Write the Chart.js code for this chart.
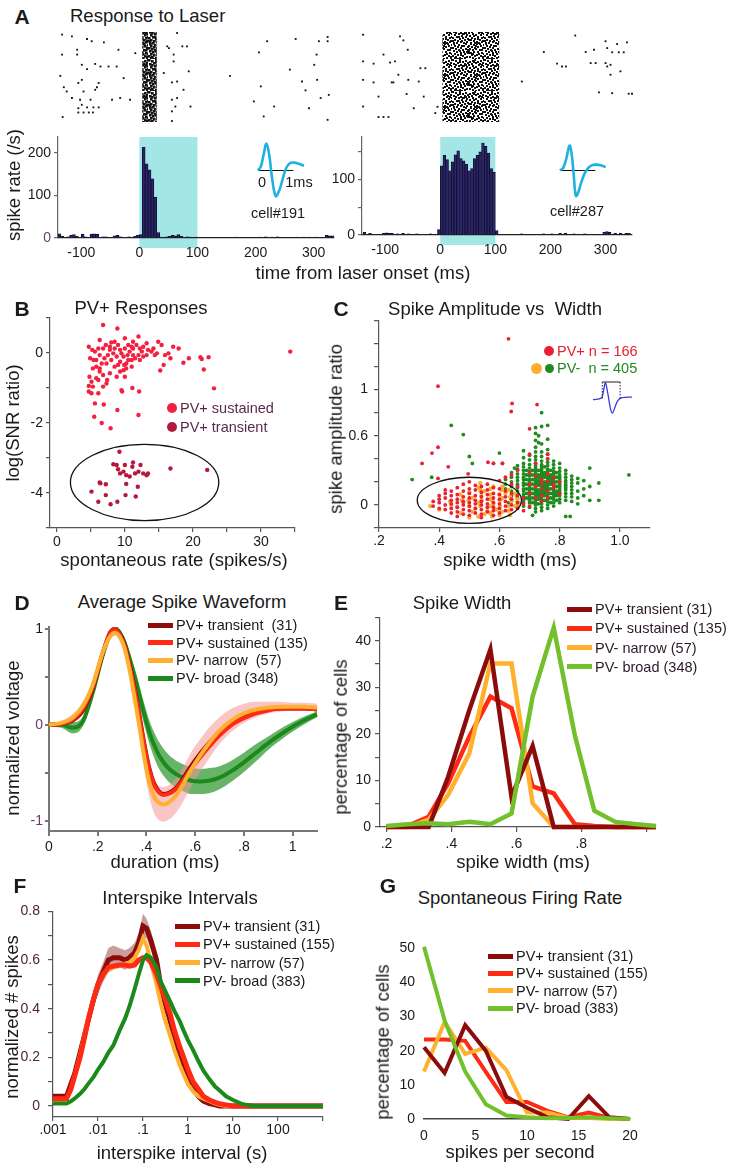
<!DOCTYPE html>
<html>
<head>
<meta charset="utf-8">
<script src="https://cdn.jsdelivr.net/npm/chart.js@4.4.0/dist/chart.umd.min.js"></script>
<style>
  body { margin: 0; background: #fff; }
  #fig { position: relative; width: 730px; height: 1165px; overflow: hidden;
         font-family: "Liberation Sans", Arial, sans-serif; color: #1a1a1a; }
  #fig canvas { position: absolute; }
  .t { position: absolute; white-space: pre; line-height: 1; }
  .sw { position: absolute; width: 25px; height: 5px; }
  .dot { position: absolute; border-radius: 50%; }
</style>
</head>
<body>
<div id="fig"></div>
<script>
// ---------- A: rasters (time ms, trial) and PSTHs ----------
const rasterLeft = [[-133,0.6],[-116,1.2],[-90,2.1],[-82,2.9],[-61,3.3],[-107,5.9],[-133,7.6],[-107,7.6],[-36,5.9],[-7,7.1],
  [-99,11.2],[-76,10.9],[-67,11.8],[-53,11.8],[-90,12.7],[-39,11.8],[-136,15.1],[-27,15.9],[-99,16.5],[-70,17.6],
  [-73,19.1],[-105,17.6],[-130,19.1],[-76,20],[-125,20.6],[-96,20.6],[-116,22.9],[-102,23.5],[-84,23.5],[-47,23.5],
  [-33,22.9],[-16,23.5],[-99,25.3],[-105,26.5],[-90,26.2],[-79,26.2],[-70,26.2],[-105,28],[-96,28],[-87,28],[-80,28],[-132,29.6],
  [65,0],[48,4.7],[51,5.3],[74,4.7],[82,4.7],[59,7.6],[59,10],[42,14.1],[85,13.5],[65,17.1],[56,17.4],[76,20],[65,22.9],
  [56,23.5],[62,25.9],[88,25.9],[56,27.6],[56,31],
  [156,15.1],[220,2.9],[206,6.8],[269,2.1],[309,2.9],[324,1.4],[324,2.9],[305,7.6],[259,12.9],[301,11.2],[209,18.8],
  [280,17.1],[306,16.5],[286,20.2],[312,22.9],[326,21.8],[197,24.1],[232,25.9],[292,26.5],[214,29.4],[324,30.6]];
const rasterRight = [[-73,1.2],[-67,2.6],[-59,5.9],[-103,7.6],[-91,10.4],[-82,10],[-121,10.8],[-36,12.4],[-27,12.4],
  [-76,14.7],[-88,17.4],[-85,17.4],[-58,16.5],[-39,17.1],[-121,17.4],[-112,22.4],[-61,21.5],[-30,22.4],[-48,26.5],
  [-9,28.2],[-112,29.6],[-103,29.6],[-94,29.6],[-140,0.6],[-140,10],[-140,16.5],[-140,25.9],[-5,26],
  [245,0.9],[188,6.7],[148,17.1],[212,10.8],[221,11.8],[228,11.8],[264,6.7],[279,5.9],[300,2.9],[321,3.9],[339,3.3],
  [303,5.3],[312,6.8],[324,6.8],[333,6.8],[300,10.6],[309,11.2],[303,11.8],[327,13.5],[309,14.7],[273,10.6],[282,10.6],
  [288,20.9],[312,21.2],[342,21.4],[348,21.4]];
const denseLeft = [5, 30, 0, 31];     // first ms, last ms, first trial, last trial
const denseRight = [4, 107, 0, 31];
const laserOn = [0, 100];

const psthLeftBins = [-140,-135,-125,-120,-115,-110,-100,-95,-85,-80,-75,-65,-60,-45,-40,-35,-20,-10,-5,0,
  5,10,15,20,25,30,35,45,50,55,60,65,70,80,85,95,165,205,215,225,235,270,280,290,300,320,325,330];
const psthLeftRate = [10,4,3,6,8,4,9,3,9,10,9,3,3,5,6,3,3,4,7,8,
  213,174,160,139,96,13,2,3,4,6,5,8,4,3,2,2,2,2,3,2,3,2,2,2,2,6,5,5];
const psthRightBins = [-140,-130,-105,-100,-95,-90,-80,-70,-60,-45,-20,-5,0,5,10,15,20,25,30,35,40,45,50,55,60,
  65,70,75,80,85,90,95,100,145,185,200,215,225,240,260,295,300,305,315,325,335,340];
const psthRightRate = [5,3,3,4,3,3,2,3,2,2,2,10,125,144,136,116,132,145,152,138,134,128,116,120,138,
  144,150,166,160,148,120,113,8,2,2,2,3,3,2,2,5,6,5,3,3,3,3];

const waveLeftT = [0,0.08,0.16,0.24,0.32,0.4,0.5,0.6,0.7,0.8,0.9,1.0,1.15,1.3];
const waveLeftV = [0,0.15,0.6,1.0,0.55,-0.3,-0.95,-0.75,-0.3,0.1,0.27,0.3,0.25,0.18];
const waveRightT = [0,0.09,0.18,0.27,0.33,0.39,0.45,0.52,0.6,0.7,0.8,0.9,1.0,1.15,1.29];
const waveRightV = [0,0.1,0.45,0.93,0.6,-0.2,-0.95,-0.8,-0.45,-0.1,0.1,0.19,0.22,0.2,0.12];

// ---------- B: spontaneous rate vs log(SNR) ----------
const bSustained = [[6.8,0.80],[8.9,0.70],[4.7,0.18],[6.3,0.37],[7.2,0.23],[7.8,0.18],[8.5,0.13],[9.3,0.09],[10.0,0.42],
  [10.5,0.23],[11.0,0.18],[11.7,0.23],[12.0,0.47],[12.5,0.04],[13.2,0.28],[13.9,0.04],[14.4,-0.06],[14.9,0.32],[15.4,0.23],
  [15.9,-0.06],[16.4,-0.01],[17.1,0.18],[17.9,0.13],[18.6,-0.28],[19.4,-0.15],[21.1,-0.12],[21.3,-0.17],[22.3,-0.12],
  [21.6,-0.47],[23.1,-1.01],[15.2,-0.50],[15.7,-0.34],[16.7,-0.15],[34.3,0.04],[4.9,-0.15],[5.4,-0.2],[5.8,-0.39],
  [6.3,-0.53],[6.8,-0.63],[7.4,-0.77],[4.8,-0.68],[5.1,-0.82],[5.3,-0.96],[4.7,-1.1],[5.1,-1.15],[6.1,-1.15],[6.8,-0.96],
  [7.3,-0.87],[7.8,-0.58],[8.5,-0.39],[9.3,-0.25],[9.8,-0.49],[10.2,-0.3],[11.0,-0.39],[11.5,-0.15],[12.2,-0.2],[9.8,-0.1],
  [8.8,-0.1],[8.3,-0.01],[7.5,-0.06],[6.3,-0.06],[5.6,0.04],[5.8,-0.72],[6.6,-0.3],[8.0,-0.2],[9.3,-0.53],[10.0,-0.68],
  [10.2,-0.44],[11.2,-0.06],[12.7,-0.1],[13.4,0.09],[14.2,0.13],[14.7,-0.01],[11.0,-0.2],[12.0,-0.06],[10.4,-0.06],
  [9.0,0.23],[8.0,0.3],[6.8,0.13],[6.1,0.13],[5.2,0.09],[5.6,-1.44],[6.9,-1.47],[5.5,-1.82],[6.6,-2.0],[7.9,-2.15],
  [8.9,-1.63],[12.0,-1.77],[12.1,-1.1],[9.5,-1.06],[9.6,-1.1],[11.1,-1.0],[4.7,-0.94],[6.1,-0.77],[8.8,-0.68],[9.9,-0.34],
  [10.7,0.04],[9.5,-0.01],[7.3,-0.3],[6.3,-0.44],[5.3,-0.44],[8.5,0.32],[11.2,0.13],[12.2,0.13],[9.0,-0.34],[10.5,-0.2],
  [12.7,0.18],[7.0,-0.15],[5.8,-0.2],[7.8,0.09],[11.2,0.32],[13.2,-0.06],[10.0,0.13]];
const bTransient = [[9.2,-2.82],[8.3,-3.18],[8.8,-3.2],[10.0,-3.2],[9.0,-3.32],[9.8,-3.39],[11.2,-3.13],[11.1,-3.25],
  [12.3,-3.2],[12.0,-3.39],[12.7,-3.44],[13.2,-3.49],[13.4,-3.44],[10.2,-3.49],[10.7,-3.53],[11.5,-3.44],[9.3,-3.44],
  [6.3,-3.7],[6.4,-3.72],[7.2,-3.75],[5.1,-3.96],[7.2,-4.06],[6.1,-4.25],[7.9,-4.32],[10.2,-3.74],[10.1,-4.06],
  [11.9,-3.82],[11.6,-4.1],[8.9,-4.25],[16.7,-3.3],[22.1,-3.34]];
const bEllipse = [12.9, -3.7, 10.9, 1.09];   // centre x, centre y, radius x, radius y

// ---------- C: spike amplitude ratio vs width ----------
const cGreenCols = [[0.62,[0.22,0.18,0.14]],[0.64,[0.28,0.24,0.20,0.16,0.12,0.08,0.05]],
  [0.66,[0.34,0.31,0.27,0.24,0.21,0.18,0.15,0.12,0.09,0.06,0.03,0.00]],
  [0.68,[0.47,0.41,0.36,0.33,0.30,0.27,0.24,0.22,0.19,0.17,0.14,0.12,0.09,0.07,0.04,0.02,-0.01]],
  [0.69,[0.30,0.26,0.22,0.18,0.14,0.10,0.06]],
  [0.70,[0.43,0.39,0.35,0.32,0.29,0.27,0.25,0.22,0.20,0.18,0.16,0.14,0.12,0.10,0.08,0.06,0.04,0.02,-0.02]],
  [0.71,[0.30,0.26,0.22,0.18,0.14,0.10,0.06,0.02]],
  [0.72,[0.62,0.56,0.50,0.46,0.42,0.39,0.36,0.34,0.32,0.30,0.28,0.26,0.24,0.22,0.20,0.18,0.16,0.14,0.12,0.10,0.08,0.06,0.04,0.02,0.00,-0.03,-0.06]],
  [0.73,[0.30,0.26,0.21,0.17,0.13,0.09,0.05,0.01,0.24,0.19,0.11,0.07]],
  [0.74,[0.80,0.68,0.53,0.46,0.42,0.38,0.35,0.33,0.31,0.29,0.27,0.25,0.23,0.21,0.19,0.17,0.15,0.13,0.11,0.09,0.07,0.05,0.03,0.01,-0.02,-0.05]],
  [0.75,[0.33,0.28,0.24,0.20,0.16,0.12,0.08,0.04,0.26,0.18,0.10,0.14]],
  [0.76,[0.69,0.48,0.44,0.40,0.37,0.34,0.31,0.29,0.27,0.25,0.23,0.21,0.19,0.17,0.15,0.13,0.11,0.09,0.07,0.05,0.03,0.00,-0.03]],
  [0.77,[0.30,0.26,0.22,0.18,0.14,0.10,0.06,0.02,0.24,0.20]],
  [0.78,[0.38,0.35,0.32,0.29,0.27,0.25,0.23,0.21,0.19,0.17,0.15,0.13,0.11,0.09,0.07,0.05,0.02,-0.01]],
  [0.79,[0.28,0.24,0.20,0.16,0.12,0.08,0.04,0.10]],
  [0.80,[0.36,0.32,0.29,0.26,0.24,0.22,0.20,0.18,0.16,0.14,0.12,0.10,0.08,0.05,0.02]],
  [0.82,[0.30,0.27,0.24,0.21,0.19,0.17,0.15,0.13,0.10,0.07,0.04,-0.10]],
  [0.84,[0.25,0.22,0.19,0.16,0.13,0.10,0.07,0.03]],[0.86,[0.23,0.19,0.12,0.06,0.01]],
  [0.88,[0.21,0.14,0.08]],[0.90,[0.32,0.16,0.04]],[0.93,[0.19,0.04]]];
const cGreenOut = [[0.31,0.22],[0.44,0.69],[0.48,0.61],[0.50,0.42],[0.51,0.36],[0.375,0.24],[0.58,0.36],[0.60,0.45],
  [0.61,0.36],[0.71,-0.09],[0.835,-0.10],[1.03,0.26],[0.72,0.67],[0.73,0.60],[0.73,0.54],[0.76,0.57],[0.65,0.32],[0.63,0.02]];
const cRedCols = [[0.38,[0.03,-0.01]],[0.40,[0.08,0.05,0.02,-0.03]],[0.42,[0.13,0.10,0.06,0.00,-0.04]],
  [0.44,[0.12,0.08,0.04,0.01,-0.03,-0.07]],[0.46,[0.15,0.09,0.05,0.02,-0.02,-0.06,-0.10]],
  [0.48,[0.18,0.12,0.07,0.03,0.00,-0.04,-0.08]],[0.50,[0.20,0.14,0.10,0.06,0.02,-0.01,-0.05,-0.09]],
  [0.52,[0.17,0.13,0.08,0.04,0.01,-0.03,-0.07]],[0.54,[0.16,0.11,0.07,0.03,0.00,-0.04,-0.08,-0.11]],
  [0.56,[0.18,0.13,0.09,0.05,0.01,-0.02,-0.06]],[0.58,[0.15,0.10,0.06,0.02,-0.02,-0.05,-0.09]],
  [0.60,[0.21,0.14,0.09,0.05,0.01,-0.03,-0.07]],[0.62,[0.24,0.12,0.07,0.03,-0.01,-0.05]],
  [0.64,[0.26,0.18,0.10,0.05,0.00,-0.04]],[0.66,[0.16,0.08,0.02,-0.03]],[0.68,[0.06,0.01,-0.05]],
  [0.70,[0.44,0.28,0.18,0.10,-0.01]],[0.72,[0.36,0.25,0.16,0.06]],[0.74,[0.22,0.19,0.14,0.08,0.03]],
  [0.76,[0.44,0.40,0.27,0.20,0.12,0.06]],[0.78,[0.24,0.18,0.15]],[0.80,[0.20,0.10]]];
const cRedOut = [[0.63,1.44],[0.396,1.03],[0.642,0.88],[0.639,0.81],[0.725,0.87],[0.70,0.66],[0.396,0.50],[0.376,0.45],
  [0.343,0.36],[0.396,0.23],[0.43,0.33],[0.496,0.27],[0.562,0.37],[0.58,0.36],[0.61,0.36],[0.66,0.30]];
const cNarrow = [[0.37,-0.01],[0.40,-0.04],[0.44,0.0],[0.47,0.09],[0.475,0.04],[0.497,0.04],[0.50,-0.01],[0.51,-0.06],
  [0.536,0.19],[0.536,0.13],[0.541,0.04],[0.536,-0.01],[0.53,-0.10],[0.57,0.14],[0.57,0.09],[0.575,0.04],[0.57,-0.01],
  [0.575,-0.10],[0.608,0.13],[0.602,0.04],[0.602,-0.01],[0.608,-0.06],[0.63,0.13],[0.635,0.07],[0.63,-0.01],[0.635,-0.09],
  [0.657,0.07],[0.652,-0.01],[0.663,0.01],[0.50,-0.11],[0.47,-0.07],[0.436,0.03],[0.54,0.08],[0.57,0.05],[0.60,0.09],
  [0.53,0.15],[0.50,0.11],[0.56,-0.05],[0.61,0.06],[0.64,0.03],[0.58,0.16],[0.52,-0.03],[0.55,-0.08],[0.59,-0.04],
  [0.62,0.10],[0.48,0.02],[0.46,-0.02],[0.66,0.05],[0.60,-0.09],[0.53,0.02],[0.57,-0.07],[0.63,-0.05],[0.51,0.06],
  [0.55,0.12],[0.65,0.10],[0.58,0.01],[0.61,0.16]];
const cEllipse = [0.5, 0.04, 0.173, 0.2];
const cWaveT = [0,0.29,0.36,0.43,0.52,0.6,0.67,0.76,0.86,1.0,1.35];
const cWaveV = [0,0.1,0.5,1.0,0.3,-0.5,-0.8,-0.45,-0.05,0.12,0.15];
const cWaveBox = [0.32, 0.94];

// ---------- D: average waveforms ----------
const dX = [0,0.05,0.1,0.14,0.18,0.22,0.25,0.27,0.29,0.31,0.33,0.35,0.37,0.39,0.41,0.43,0.45,0.47,0.49,0.52,0.55,0.58,0.62,0.66,0.70,0.75,0.80,0.85,0.90,0.95,1.0,1.05,1.1];
const dTransient = [0,0.01,0.05,0.15,0.38,0.74,0.96,1.0,0.95,0.84,0.64,0.40,0.12,-0.18,-0.43,-0.60,-0.69,-0.72,-0.71,-0.66,-0.56,-0.44,-0.30,-0.18,-0.07,0.03,0.10,0.14,0.16,0.17,0.17,0.17,0.16];
const dSustained = [0,0.01,0.06,0.17,0.40,0.75,0.95,1.0,0.94,0.82,0.62,0.38,0.10,-0.20,-0.45,-0.62,-0.70,-0.73,-0.72,-0.67,-0.58,-0.47,-0.34,-0.22,-0.11,0.00,0.07,0.12,0.15,0.17,0.17,0.17,0.16];
const dNarrow = [0,0.02,0.08,0.20,0.42,0.75,0.92,0.96,0.92,0.80,0.58,0.30,0.00,-0.32,-0.58,-0.74,-0.81,-0.83,-0.81,-0.74,-0.62,-0.48,-0.32,-0.18,-0.06,0.05,0.12,0.16,0.18,0.19,0.19,0.19,0.18];
const dBroad = [0,0.0,-0.03,0.04,0.34,0.72,0.94,1.0,0.96,0.86,0.70,0.52,0.32,0.12,-0.06,-0.20,-0.31,-0.39,-0.45,-0.51,-0.55,-0.58,-0.59,-0.58,-0.55,-0.48,-0.39,-0.29,-0.19,-0.10,-0.02,0.05,0.11];
const dBroadSpread = [0.02,0.03,0.06,0.05,0.04,0.03,0.03,0.03,0.04,0.05,0.06,0.08,0.10,0.11,0.12,0.13,0.14,0.14,0.14,0.14,0.14,0.14,0.13,0.13,0.12,0.11,0.10,0.09,0.07,0.06,0.05,0.04,0.03];
const dNarrowSpread = [0.02,0.02,0.04,0.05,0.05,0.04,0.04,0.03,0.04,0.05,0.06,0.08,0.10,0.13,0.15,0.17,0.18,0.18,0.18,0.18,0.18,0.18,0.17,0.16,0.14,0.12,0.10,0.08,0.06,0.05,0.04,0.04,0.04];

// ---------- E: spike width histograms (% of cells) ----------
const eX = [0.2,0.265,0.33,0.39,0.455,0.52,0.585,0.65,0.715,0.78,0.84,0.905,0.97,1.03];
const eTransient = [0,0,0,10.8,25.1,38.1,6.5,17.4,0,0,0,0,0,0];
const eSustained = [0,0.2,2.2,9.4,19.4,28,25.5,8.7,7.2,0.6,0.2,0,0,0];
const eNarrow = [0,0,1.6,6.9,15.8,35.1,35.1,5.1,0,0,0,0,0,0];
const eBroad = [0.2,0.6,0.8,0.6,1.1,0.6,2.9,28,42.8,19.7,3.5,1.1,0.6,0.2];

// ---------- F: interspike intervals ----------
const isiX = [0.001,0.0015,0.002,0.0025,0.003,0.004,0.005,0.006,0.008,0.01,0.013,0.017,0.022,0.03,0.04,0.05,0.065,0.08,
  0.1,0.12,0.15,0.2,0.25,0.3,0.4,0.5,0.65,0.8,1,1.3,1.7,2.2,3,4,5,7,10,15,20,30,50,100,1000];
const isiTransient = [0.04,0.04,0.04,0.09,0.13,0.22,0.29,0.35,0.44,0.50,0.55,0.60,0.61,0.61,0.60,0.61,0.63,0.67,0.74,0.73,
  0.68,0.60,0.49,0.43,0.35,0.28,0.21,0.16,0.11,0.07,0.04,0.02,0.01,0.005,0,0,0,0,0,0,0,0,0];
const isiTransientSpread = [0.01,0.01,0.01,0.02,0.02,0.03,0.03,0.03,0.03,0.04,0.04,0.05,0.05,0.04,0.04,0.04,0.04,0.04,0.05,0.04,
  0.04,0.03,0.03,0.03,0.02,0.02,0.02,0.02,0.02,0.01,0.01,0.01,0.01,0,0,0,0,0,0,0,0,0,0];
const isiSustained = [0.03,0.03,0.03,0.07,0.12,0.20,0.28,0.35,0.44,0.50,0.54,0.57,0.575,0.58,0.58,0.575,0.58,0.60,0.61,0.61,
  0.59,0.54,0.49,0.45,0.38,0.31,0.245,0.20,0.15,0.10,0.07,0.04,0.025,0.015,0.01,0.005,0,0,0,0,0,0,0];
const isiNarrow = [0.01,0.02,0.03,0.07,0.12,0.21,0.29,0.36,0.44,0.50,0.54,0.56,0.57,0.575,0.585,0.59,0.61,0.64,0.69,0.66,
  0.59,0.50,0.42,0.36,0.29,0.23,0.17,0.13,0.09,0.06,0.04,0.03,0.02,0.01,0.005,0,0,0,0,0,0,0,0];
const isiBroad = [0.01,0.01,0.01,0.02,0.03,0.05,0.07,0.09,0.12,0.15,0.18,0.22,0.25,0.31,0.36,0.41,0.48,0.54,0.60,0.62,
  0.61,0.57,0.51,0.48,0.43,0.39,0.35,0.31,0.27,0.23,0.185,0.145,0.11,0.08,0.065,0.04,0.025,0.01,0.005,0,0,0,0];

// ---------- G: spontaneous firing rate (% of cells) ----------
const gX = [0,2,4,6,8,10,12,14,16,18,20];
const gTransient = [21,13.5,27.5,20,6.5,3.3,0.5,0,6.7,0.5,0];
const gSustained = [23.3,23.3,22.9,13.8,5,5,2.4,0.5,1.9,0.3,0];
const gNarrow = [13.9,28.4,19.1,20.9,14.3,1.9,1.9,0.3,0.3,0,0];
const gBroad = [50.5,28.9,13.9,4.3,1,0.5,0.2,0.3,0.5,0.2,0];

const COL = { transient: '#8c0c0c', sustained: '#ff2a14', narrow: '#ffb02e', broadDark: '#1b8a1b', broadLight: '#72c02c' };

// ---------- helpers ----------
const fig = document.getElementById('fig');
Chart.defaults.font.family = '"Liberation Sans", Arial, sans-serif';
Chart.defaults.font.size = 14;
Chart.defaults.color = '#1a1a1a';
Chart.defaults.animation = false;
Chart.defaults.events = [];
Chart.defaults.plugins.legend.display = false;
Chart.defaults.plugins.tooltip.enabled = false;

const ML = 44, MR = 22, MT = 12, MB = 26;

// rect = plot area [left, top, right, bottom] in page pixels
function panel(rect, config, axes) {
  const [L, T, R, B] = rect;
  const ml = axes ? ML : 6, mr = axes ? MR : 6, mt = axes ? MT : 6, mb = axes ? MB : 6;
  const cv = document.createElement('canvas');
  const w = Math.round(R - L + ml + mr), h = Math.round(B - T + mt + mb);
  cv.width = w; cv.height = h;
  cv.style.width = w + 'px'; cv.style.height = h + 'px';
  cv.style.left = Math.round(L - ml) + 'px'; cv.style.top = Math.round(T - mt) + 'px';
  fig.appendChild(cv);
  const o = config.options;
  o.responsive = false;
  o.maintainAspectRatio = false;
  o.layout = { padding: axes ? { left: 0, top: mt, right: mr, bottom: 0 } : { left: ml, top: mt, right: mr, bottom: mb } };
  if (axes) {
    o.scales.x.afterFit = s => { s.height = mb; };
    o.scales.y.afterFit = s => { s.width = ml; };
  }
  return new Chart(cv, config);
}

function axis(o) {
  const lc = o.lineColor || '#555';
  return {
    type: o.type || 'linear', min: o.min, max: o.max, offset: false,
    border: { display: o.border !== false, color: lc, width: o.lineWidth || 1.2 },
    grid: { display: !!o.tick, drawOnChartArea: false, drawTicks: true, tickLength: o.tick || 0,
            color: lc, lineWidth: o.lineWidth || 1.2, offset: false },
    afterBuildTicks: s => { s.ticks = o.ticks.map(v => ({ value: v })); },
    ticks: { autoSkip: false, maxRotation: 0, minRotation: 0, padding: o.pad || 0,
             font: { size: o.size || 14 }, color: o.color || '#1a1a1a',
             callback: (v, i) => o.labels[i] }
  };
}
const hidden = (min, max, reverse) => ({ type: 'linear', display: false, min, max, reverse: !!reverse });
const xy = pairs => pairs.map(p => ({ x: p[0], y: p[1] }));
const zip = (xs, ys) => xs.map((x, i) => ({ x, y: ys[i] }));
const cols = c => c.flatMap(([x, ys]) => ys.map(y => ({ x, y })));

// speckle texture for the dense raster blocks (style only)
const speckle = [[0,0],[3,1],[7,0],[10,2],[13,1],[1,4],[5,3],[8,5],[12,4],[15,3],[2,7],[6,6],[9,8],[11,6],[14,7],[0,10],
  [4,9],[7,11],[10,10],[13,9],[2,12],[5,13],[8,14],[12,12],[15,11],[1,15],[4,15],[9,13],[11,15],[14,14],[6,9],[3,5],
  [13,5],[7,2],[0,13],[10,6]];
function tile(size) {
  const c = document.createElement('canvas'); c.width = 32; c.height = 32;
  const g = c.getContext('2d'); g.fillStyle = '#111';
  speckle.forEach(([x, y]) => {
    g.fillRect(x, y, size, size);
    g.fillRect(16 + y, (x + 5) % 16, size, size);
    g.fillRect(15 - x, 16 + ((y + 9) % 16), size, size);
    g.fillRect(16 + ((x + 7) % 16), 31 - y, size, size);
  });
  return c;
}
function densePlugin(block, size) {
  return { id: 'dense', afterDatasetsDraw(chart) {
    const { ctx, scales: { x, y } } = chart;
    const x0 = x.getPixelForValue(block[0]), x1 = x.getPixelForValue(block[1]);
    const y0 = y.getPixelForValue(block[2]), y1 = y.getPixelForValue(block[3]);
    ctx.save();
    ctx.fillStyle = ctx.createPattern(tile(size), 'repeat');
    ctx.fillRect(x0, Math.min(y0, y1) - 1, x1 - x0, Math.abs(y1 - y0) + 2);
    ctx.restore();
  } };
}
function shadePlugin(range, color, below) {
  return { id: 'shade', beforeDraw(chart) {
    const { ctx, chartArea: a, scales: { x } } = chart;
    const x0 = x.getPixelForValue(range[0]), x1 = x.getPixelForValue(range[1]);
    ctx.save(); ctx.fillStyle = color;
    ctx.fillRect(x0, a.top, x1 - x0, a.bottom - a.top + below);
    ctx.restore();
  } };
}
function ellipsePlugin(e) {
  return { id: 'ellipse', afterDatasetsDraw(chart) {
    const { ctx, scales: { x, y } } = chart;
    const cx = x.getPixelForValue(e[0]), cy = y.getPixelForValue(e[1]);
    const rx = Math.abs(x.getPixelForValue(e[0] + e[2]) - cx), ry = Math.abs(y.getPixelForValue(e[1] + e[3]) - cy);
    ctx.save(); ctx.beginPath(); ctx.ellipse(cx, cy, rx, ry, 0, 0, Math.PI * 2);
    ctx.strokeStyle = '#111'; ctx.lineWidth = 1.3; ctx.stroke(); ctx.restore();
  } };
}

function text(str, x, y, o = {}) {
  const d = document.createElement('div');
  d.className = 't';
  d.textContent = str;
  d.style.left = x + 'px'; d.style.top = y + 'px';
  d.style.fontSize = (o.size || 18.5) + 'px';
  if (o.bold) d.style.fontWeight = 'bold';
  if (o.color) d.style.color = o.color;
  const tx = o.align === 'left' ? '0' : '-50%';
  d.style.transform = `translate(${tx},-50%)` + (o.rot ? ' rotate(-90deg)' : '');
  fig.appendChild(d);
}
function dot(x, y, d, color) {
  const e = document.createElement('div');
  e.className = 'dot';
  Object.assign(e.style, { left: (x - d / 2) + 'px', top: (y - d / 2) + 'px', width: d + 'px', height: d + 'px', background: color });
  fig.appendChild(e);
}
function legend(x, y0, dy, rows, color) {
  rows.forEach(([label, c], i) => {
    const y = y0 + i * dy;
    const s = document.createElement('div');
    s.className = 'sw';
    Object.assign(s.style, { left: x + 'px', top: (y - 2.5) + 'px', background: c });
    fig.appendChild(s);
    text(label, x + 28, y, { size: 14.5, align: 'left', color: color || '#1a1a1a' });
  });
}

const PURPLE = '#6b3c6e';

// ---------- A ----------
function raster(rect, pts, block, size, xr) {
  panel(rect, {
    type: 'scatter',
    data: { datasets: [{ data: xy(pts), pointStyle: 'rect', pointRadius: 1.3, pointBackgroundColor: '#111',
                         pointBorderWidth: 0, clip: false }] },
    options: { scales: { x: hidden(xr[0], xr[1]), y: hidden(0, 31, true) } },
    plugins: [densePlugin(block, size)]
  }, false);
}
raster([57.7, 33, 333.6, 121], rasterLeft, denseLeft, 2.6, [-140, 335]);
raster([361.9, 33, 631.4, 121], rasterRight, denseRight, 2, [-142, 348]);

function psth(rect, bins, rate, xr, yMax, yTicks, yLabels) {
  panel(rect, {
    type: 'bar',
    data: { datasets: [{ data: bins.map((b, i) => ({ x: b + 2.5, y: rate[i] })),
      backgroundColor: '#2c2668', borderColor: '#0e0b2a', borderWidth: 0.8,
      barPercentage: 1, categoryPercentage: 1, grouped: false }] },
    options: { scales: {
      x: axis({ min: xr[0], max: xr[1], ticks: [-100, 0, 100, 200, 300], labels: ['-100', '0', '100', '200', '300'],
                lineColor: '#222', lineWidth: 1.3, pad: 7 }),
      y: axis({ min: 0, max: yMax, ticks: yTicks, labels: yLabels, tick: 4, pad: 3, lineColor: '#666',
                color: c => (c.tick && c.tick.value === 0 && yMax > 200) ? PURPLE : '#1a1a1a' })
    } },
    plugins: [shadePlugin(laserOn, '#a2e6e6', 10)]
  }, true);
}
psth([57.7, 137, 333.6, 238], psthLeftBins, psthLeftRate, [-140, 335], 237, [0, 100, 200], ['0', '100', '200']);
psth([361.9, 137, 631.4, 235], psthRightBins, psthRightRate, [-142, 348], 177, [0, 50, 100, 150], ['0', '', '100', '']);

function inset(rect, t, v) {
  panel(rect, {
    type: 'line',
    data: { datasets: [
      { data: zip(t, v), borderColor: '#1eb2de', borderWidth: 2.6, pointRadius: 0, tension: 0.4, clip: false },
      { data: [{ x: 0, y: 0 }, { x: 1, y: 0 }], borderColor: '#111', borderWidth: 1.2, pointRadius: 0, clip: false }
    ] },
    options: { scales: { x: hidden(0, 1.3), y: hidden(-1.1, 1.1) } }
  }, false);
}
inset([258, 141.3, 303.5, 200.7], waveLeftT, waveLeftV);
inset([560, 141.3, 605.5, 200.7], waveRightT, waveRightV);

// ---------- B ----------
panel([50.2, 318, 295, 528], {
  type: 'scatter',
  data: { datasets: [
    { data: xy(bTransient), pointRadius: 2.2, pointBackgroundColor: '#b3193d', pointBorderWidth: 0, clip: false },
    { data: xy(bSustained), pointRadius: 2.2, pointBackgroundColor: '#f2213f', pointBorderWidth: 0, clip: false }
  ] },
  options: { scales: {
    x: axis({ min: -1, max: 35, ticks: [0, 5, 10, 15, 20, 25, 30, 35], labels: ['0', '', '10', '', '20', '', '30', ''], tick: 4, pad: 2 }),
    y: axis({ min: -5, max: 1, ticks: [-5, -4, -3, -2, -1, 0, 1], labels: ['', '-4', '', '-2', '', '0', ''], tick: 4, pad: 3 })
  } },
  plugins: [ellipsePlugin(bEllipse)]
}, true);

// ---------- C ----------
panel([379, 318, 650, 528.4], {
  type: 'scatter',
  data: { datasets: [
    { data: xy(cRedOut).concat(cols(cRedCols)), pointRadius: 1.9, pointBackgroundColor: '#ec2035', pointBorderWidth: 0, clip: false },
    { data: xy(cNarrow), pointRadius: 2.2, pointBackgroundColor: '#fbb034', pointBorderWidth: 0, clip: false },
    { data: cols(cGreenCols).concat(xy(cGreenOut)), pointRadius: 1.9, pointBackgroundColor: '#1e8c1e', pointBorderWidth: 0, clip: false }
  ] },
  options: { scales: {
    x: axis({ min: 0.2, max: 1.1, ticks: [0.2, 0.4, 0.6, 0.8, 1.0], labels: ['.2', '.4', '.6', '.8', '1.0'], tick: 4, pad: 1 }),
    y: axis({ min: -0.2, max: 1.6, ticks: [-0.2, 0, 0.2, 0.4, 0.6, 0.8, 1, 1.2, 1.4, 1.6],
              labels: ['', '0', '', '', '0.6', '', '1', '', '', ''], tick: 5, pad: 6 })
  } },
  plugins: [ellipsePlugin(cEllipse)]
}, true);

panel([593, 382, 632, 414], {
  type: 'line',
  data: { datasets: [{ data: zip(cWaveT, cWaveV), borderColor: '#3b3bdc', borderWidth: 1.3, pointRadius: 0, tension: 0.35, clip: false }] },
  options: { scales: { x: hidden(0, 1.35), y: hidden(-0.85, 1.05) } },
  plugins: [{ id: 'box', afterDatasetsDraw(chart) {
    const { ctx, chartArea: a, scales: { x, y } } = chart;
    const x0 = x.getPixelForValue(cWaveBox[0]), x1 = x.getPixelForValue(cWaveBox[1]), yb = y.getPixelForValue(0);
    ctx.save(); ctx.strokeStyle = '#222'; ctx.lineWidth = 1;
    ctx.beginPath(); ctx.moveTo(x0, a.top); ctx.lineTo(x1, a.top); ctx.stroke();
    ctx.setLineDash([1.5, 1.5]);
    ctx.beginPath(); ctx.moveTo(x0, a.top); ctx.lineTo(x0, yb); ctx.moveTo(x1, a.top); ctx.lineTo(x1, yb); ctx.stroke();
    ctx.restore();
  } }]
}, false);

// ---------- D ----------
const line = (xs, ys, color, width, order, extra) => Object.assign(
  { data: zip(xs, ys), borderColor: color, borderWidth: width, pointRadius: 0, fill: false, order, clip: false }, extra || {});
const band = (xs, mean, spread, color, order, smooth) => [
  { data: xs.map((x, i) => ({ x, y: mean[i] + spread[i] })), borderWidth: 0, pointRadius: 0, fill: '+1',
    backgroundColor: color, order, ...smooth },
  { data: xs.map((x, i) => ({ x, y: mean[i] - spread[i] })), borderWidth: 0, pointRadius: 0, fill: false, order, ...smooth }
];
const mono = { cubicInterpolationMode: 'monotone' };
panel([49, 627.1, 316.9, 830.6], {
  type: 'line',
  data: { datasets: [
    ...band(dX, dBroad, dBroadSpread, 'rgba(45,150,45,0.72)', 6, mono),
    ...band(dX, dNarrow, dNarrowSpread, 'rgba(246,150,150,0.55)', 5, mono),
    line(dX, dBroad, COL.broadDark, 4, 4, mono),
    line(dX, dTransient, COL.transient, 4, 3, mono),
    line(dX, dSustained, COL.sustained, 4, 2, mono),
    line(dX, dNarrow, COL.narrow, 4, 1, mono)
  ] },
  options: { scales: {
    x: axis({ min: 0, max: 1.1, ticks: [0, 0.2, 0.4, 0.6, 0.8, 1], labels: ['0', '.2', '.4', '.6', '.8', '1'],
              tick: 5, pad: 3, lineColor: '#777', lineWidth: 2 }),
    y: axis({ min: -1.106, max: 1.02, ticks: [-1, -0.5, 0, 0.5, 1], labels: ['-1', '', '0', '', '1'],
              tick: 4, pad: 2, lineColor: '#777', lineWidth: 2,
              color: c => (c.tick && c.tick.value < 0.5) ? PURPLE : '#1a1a1a' })
  } }
}, true);

// ---------- E ----------
panel([379.5, 617.3, 655.7, 827], {
  type: 'line',
  data: { datasets: [
    line(eX, eSustained, COL.sustained, 4.5, 4),
    line(eX, eNarrow, COL.narrow, 4.5, 3),
    line(eX, eTransient, COL.transient, 4.5, 2),
    line(eX, eBroad, COL.broadLight, 4.5, 1)
  ] },
  options: { scales: {
    x: axis({ min: 0.18, max: 1.03, ticks: [0.2, 0.4, 0.6, 0.8, 1.0], labels: ['.2', '.4', '.6', '.8', ''], tick: 5, pad: 4 }),
    y: axis({ min: 0, max: 45, ticks: [0, 5, 10, 15, 20, 25, 30, 35, 40, 45],
              labels: ['0', '', '10', '', '20', '', '30', '', '40', ''], tick: 5, pad: 4 })
  } }
}, true);

// ---------- F ----------
panel([53, 907, 323, 1117], {
  type: 'line',
  data: { datasets: [
    ...band(isiX, isiTransient, isiTransientSpread, 'rgba(140,40,40,0.45)', 5, {}),
    line(isiX, isiTransient, COL.transient, 5, 4),
    line(isiX, isiNarrow, COL.narrow, 4, 3),
    line(isiX, isiSustained, COL.sustained, 5, 2),
    line(isiX, isiBroad, COL.broadDark, 4, 1)
  ] },
  options: { scales: {
    x: axis({ type: 'logarithmic', min: 0.001, max: 1000, ticks: [0.001, 0.01, 0.1, 1, 10, 100, 1000],
              labels: ['.001', '.01', '.1', '1', '10', '100', ''], tick: 4, pad: 1 }),
    y: axis({ min: -0.045, max: 0.8, ticks: [0, 0.1, 0.2, 0.3, 0.4, 0.5, 0.6, 0.7, 0.8],
              labels: ['0', '', '0.2', '', '0.4', '', '0.6', '', '0.8'], tick: 5, pad: 8, color: '#4b2245' })
  } }
}, true);

// ---------- G ----------
panel([424, 943, 630, 1119], {
  type: 'line',
  data: { datasets: [
    line(gX, gSustained, COL.sustained, 4, 4),
    line(gX, gNarrow, COL.narrow, 4, 3),
    line(gX, gTransient, COL.transient, 4, 2),
    line(gX, gBroad, COL.broadLight, 4, 1)
  ] },
  options: { scales: {
    x: axis({ min: 0, max: 20, ticks: [0, 5, 10, 15, 20], labels: ['0', '5', '10', '15', '20'], pad: 9, lineColor: '#444', lineWidth: 1.5 }),
    y: axis({ min: 0, max: 50, ticks: [0, 10, 20, 30, 40, 50], labels: ['0', '10', '20', '30', '40', '50'], pad: 9, border: false })
  } }
}, true);

// ---------- text ----------
const big = { size: 21, bold: true };
text('A', 22, 16, big);
text('Response to Laser', 70, 16, { align: 'left' });
text('spike rate (/s)', 14, 185, { rot: true });
text('time from laser onset (ms)', 363, 273);
text('0', 262, 182, { size: 14.5 });
text('1ms', 299, 182, { size: 14.5 });
text('cell#191', 278, 213, { size: 14.5 });
text('cell#287', 577, 211, { size: 14.5 });

text('B', 22, 308, big);
text('PV+ Responses', 141, 308);
text('log(SNR ratio)', 13, 423, { rot: true });
text('spontaneous rate (spikes/s)', 174, 560);
dot(172, 408, 10, '#f2213f');
text('PV+ sustained', 180, 408, { size: 14.5, align: 'left', color: '#5a2a4a' });
dot(172, 427, 10, '#b3193d');
text('PV+ transient', 180, 427, { size: 14.5, align: 'left', color: '#5a2a4a' });

text('C', 341, 308, big);
text('Spike Amplitude vs  Width', 495, 309);
text('spike amplitude ratio', 336, 429, { rot: true });
text('spike width (ms)', 510, 560);
dot(549, 351, 10, '#ec2035');
text('PV+ n = 166', 557, 351, { size: 14.5, align: 'left', color: '#e8202a' });
dot(536, 368, 11, '#fbb034');
dot(549, 368, 9, '#1e8c1e');
text('PV-  n = 405', 557, 368, { size: 14.5, align: 'left', color: '#1f8a1f' });

text('D', 22, 602, big);
text('Average Spike Waveform', 182, 602);
text('normalized voltage', 13, 738, { rot: true });
text('duration (ms)', 165, 862);
legend(148, 625, 17.7, [['PV+ transient  (31)', COL.transient], ['PV+ sustained (135)', COL.sustained],
                        ['PV- narrow  (57)', COL.narrow], ['PV- broad (348)', COL.broadDark]]);

text('E', 341, 602, big);
text('Spike Width', 462, 603);
text('percentage of cells', 341, 737, { rot: true });
text('spike width (ms)', 523, 862);
legend(567, 609, 19.3, [['PV+ transient (31)', COL.transient], ['PV+ sustained (135)', COL.sustained],
                        ['PV- narrow (57)', COL.narrow], ['PV- broad (348)', COL.broadLight]], '#2a1a2a');

text('F', 20, 885, big);
text('Interspike Intervals', 180, 898);
text('normalized # spikes', 12, 1017, { rot: true });
text('interspike interval (s)', 182, 1153);
legend(175, 926, 18.3, [['PV+ transient (31)', COL.transient], ['PV+ sustained (155)', COL.sustained],
                        ['PV- narrow (57)', COL.narrow], ['PV- broad (383)', COL.broadDark]]);

text('G', 388, 885, big);
text('Spontaneous Firing Rate', 520, 898);
text('percentage of cells', 383, 1042, { rot: true });
text('spikes per second', 520, 1152);
legend(488, 956, 17.4, [['PV+ transient (31)', COL.transient], ['PV+ sustained (155)', COL.sustained],
                        ['PV- narrow (57)', COL.narrow], ['PV- broad (383)', COL.broadLight]]);
</script>
</body>
</html>
